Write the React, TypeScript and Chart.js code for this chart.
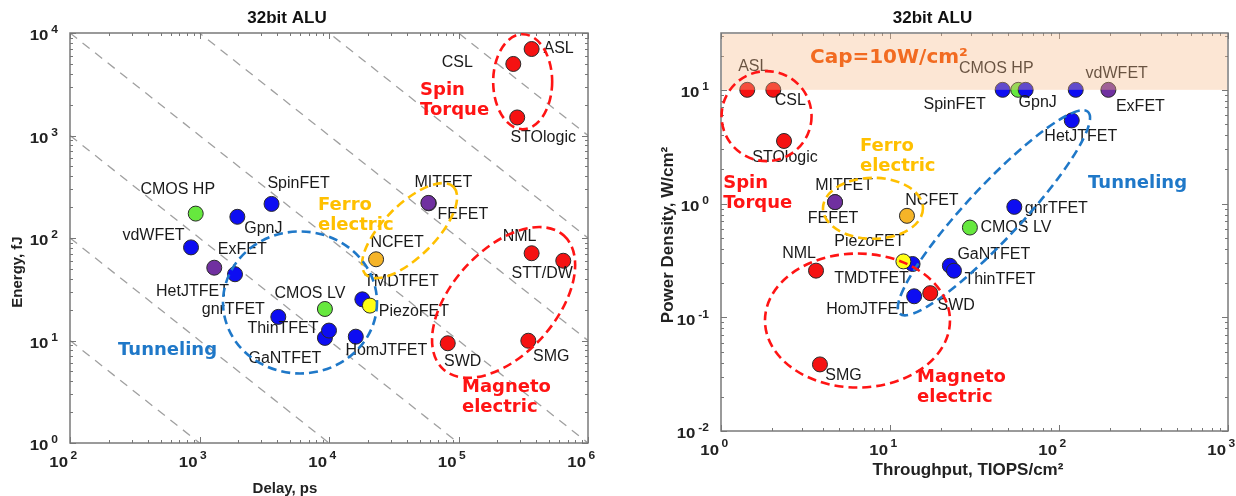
import React, { useEffect, useRef } from "react";
import { Chart, registerables } from "chart.js";

Chart.register(...registerables);

// ---------------- data ----------------
const devices = ["CMOS HP", "CMOS LV", "HomJTFET", "HetJTFET", "gnrTFET", "GaNTFET", "ThinTFET", "TMDTFET", "PiezoFET", "vdWFET", "ExFET", "SpinFET", "GpnJ", "NCFET", "FEFET", "MITFET", "ASL", "CSL", "STOlogic", "NML", "STT/DW", "SWD", "SMG"];
const families = ["cmos", "cmos", "tfet", "tfet", "tfet", "tfet", "tfet", "tfet", "piezo", "tfet", "exfet", "tfet", "tfet", "ncfet", "fefet", "fefet", "spin", "spin", "spin", "magneto", "magneto", "magneto", "magneto"];

const delayPs = [935, 9300, 16100, 1880, 4060, 9300, 10000, 18100, 20700, 860, 1300, 3600, 1960, 23100, 59000, 58500, 367000, 265000, 284000, 367000, 644000, 82600, 346000];
const energyFJ = [173, 20.3, 10.9, 44.3, 17.0, 10.6, 12.5, 25.2, 21.9, 81, 51.3, 215, 161, 62, 218, 220, 6980, 4990, 1500, 71, 60, 9.4, 9.95];

const throughputTIOPS = [57.4, 29.7, 13.9, 119, 54.4, 22.6, 23.9, 13.6, 12.0, 125.6, 196, 46.4, 63.5, 12.6, 4.73, 4.73, 1.43, 2.04, 2.36, 3.65, null, 17.3, 3.85];
const powerDensity = [10, 0.615, 0.153, 5.38, 0.935, 0.284, 0.257, 0.294, 0.31, 10, 10, 10, 10, 0.78, 1.03, 1.03, 10, 10, 3.55, 0.257, null, 0.163, 0.0385];

// constant energy*delay reference lines (fJ*ps)
const energyDelayLines = [1e3, 1e4, 1e5, 1e6, 1e7, 1e8, 1e9];
const powerCap = 10; // W/cm2

const leftXTickExps = [2, 3, 4, 5, 6];
const leftYTickExps = [0, 1, 2, 3, 4];
const rightXTickExps = [0, 1, 2, 3];
const rightYTickExps = [-2, -1, 0, 1];

// ---------------- styles / layout ----------------
const familyColors: Record<string, string> = {
  cmos: "#66e83e",
  tfet: "#0d0df2",
  piezo: "#ffff14",
  exfet: "#7030a0",
  fefet: "#7030a0",
  ncfet: "#f5b428",
  spin: "#f51212",
  magneto: "#f51212",
};
const RED = "#ff1414";
const GOLD = "#ffc000";
const BLUE = "#1f78c8";

// label offsets in pixels from each point (center of text)
const leftLabelOffsets: number[][] = [
  [-18, -24], [-15, -15.5], [30.5, 14], [-42.5, 17], [-45, -7], [-40, 21], [-46, -2], [39, -18], [44, 6],
  [-37.5, -12], [28, -18], [27, -20.5], [26, 12], [21, -17], [34, 11], [15, -20],
  [27, 0], [-56, -1], [26, 20], [-12, -17], [-21, 13], [15, 18], [23, 16],
];
const rightLabelOffsets: number[][] = [
  [-22, -21], [46, 0], [-47, 13], [9, 16], [42, 1.5], [44, -11.5], [46, 8.5], [-41, 15], [-34, -20],
  [41, -16], [32, 17], [-48, 15], [12, 13], [25, -15], [-2, 16.5], [9, -16],
  [6, -23], [17, 11], [1, 16.5], [-17, -17.5], [0, 0], [26, 12], [23.5, 11],
];

type Ell = { cx: number; cy: number; a: number; b: number; rot: number; color: string };
const leftEllipses: Ell[] = [
  { cx: 3.13e5, cy: 3350, a: 29.5, b: 47.5, rot: 0, color: RED },
  { cx: 4.19e4, cy: 118, a: 62, b: 26, rot: -45, color: GOLD },
  { cx: 5970, cy: 23.5, a: 77, b: 71, rot: 0, color: BLUE },
  { cx: 2.23e5, cy: 23.5, a: 90, b: 52, rot: -48, color: RED },
];
const rightEllipses: Ell[] = [
  { cx: 1.86, cy: 5.87, a: 45, b: 45, rot: 0, color: RED },
  { cx: 7.93, cy: 0.908, a: 50, b: 30.5, rot: 0, color: GOLD },
  { cx: 41.2, cy: 0.829, a: 138, b: 27, rot: -47, color: BLUE },
  { cx: 6.42, cy: 0.0936, a: 92.5, b: 67, rot: 0, color: RED },
];

type Group = { lines: string[]; x: number; y: number; color: string };
const leftGroups: Group[] = [
  { lines: ["Spin", "Torque"], x: 5.05e4, y: 2218, color: RED },
  { lines: ["Ferro", "electric"], x: 8220, y: 167.6, color: GOLD },
  { lines: ["Tunneling"], x: 235, y: 7.98, color: BLUE },
  { lines: ["Magneto", "electric"], x: 1.064e5, y: 2.78, color: RED },
];
const rightGroups: Group[] = [
  { lines: ["Spin", "Torque"], x: 1.03, y: 1.229, color: RED },
  { lines: ["Ferro", "electric"], x: 6.64, y: 2.58, color: GOLD },
  { lines: ["Tunneling"], x: 148.5, y: 1.5, color: BLUE },
  { lines: ["Magneto", "electric"], x: 14.45, y: 0.0244, color: RED },
];

const SANS = "'Liberation Sans', Arial, Helvetica, sans-serif";
const WIDE = "'DejaVu Sans', Verdana, sans-serif";

function txt(ctx: CanvasRenderingContext2D, s: string, x: number, y: number, font: string, color: string, align: CanvasTextAlign = "center", sx = 1) {
  ctx.save();
  ctx.font = font;
  ctx.fillStyle = color;
  ctx.textAlign = align;
  ctx.textBaseline = "middle";
  ctx.translate(x, y);
  ctx.scale(sx, 1);
  ctx.fillText(s, 0, 0);
  ctx.restore();
}

function textW(ctx: CanvasRenderingContext2D, s: string, font: string, sx = 1) {
  ctx.save();
  ctx.font = font;
  const w = ctx.measureText(s).width * sx;
  ctx.restore();
  return w;
}

type Spec = {
  xs: (number | null)[];
  ys: (number | null)[];
  offsets: number[][];
  ellipses: Ell[];
  groups: Group[];
  xMin: number; xMax: number; yMin: number; yMax: number;
  xTickExps: number[]; yTickExps: number[];
  refLines?: number[];
  cap?: number;
  capText?: { text: string; x: number; y: number };
  xTitle: string; yTitle: string;
  titleFont: string;
  xTitleDx: number; xTitleDy: number;
  yTitleDx: number; yTitleDy: number;
  padding: { left: number; right: number; top: number; bottom: number };
};

const TICK_FONT = `bold 14px ${SANS}`;
const EXP_FONT = `bold 10px ${SANS}`;
const TSX = 1.2;

function makePlugin(spec: Spec) {
  return {
    id: "decor",
    beforeDatasetsDraw(chart: any) {
      const { ctx, chartArea: ca, scales } = chart;
      const xs = scales.x, ys = scales.y;
      // reference lines
      if (spec.refLines) {
        ctx.save();
        ctx.beginPath();
        ctx.rect(ca.left, ca.top, ca.right - ca.left, ca.bottom - ca.top);
        ctx.clip();
        ctx.strokeStyle = "#a0a0a0";
        ctx.lineWidth = 1.3;
        ctx.setLineDash([9, 7]);
        for (const c of spec.refLines) {
          ctx.beginPath();
          ctx.moveTo(xs.getPixelForValue(spec.xMin), ys.getPixelForValue(c / spec.xMin));
          ctx.lineTo(xs.getPixelForValue(spec.xMax), ys.getPixelForValue(c / spec.xMax));
          ctx.stroke();
        }
        ctx.restore();
      }
      // frame
      ctx.save();
      ctx.strokeStyle = "#7a7a7a";
      ctx.lineWidth = 1.5;
      ctx.strokeRect(ca.left, ca.top, ca.right - ca.left, ca.bottom - ca.top);
      // ticks
      ctx.lineWidth = 1;
      ctx.strokeStyle = "#777";
      const drawTicks = (min: number, max: number, scale: any, horiz: boolean) => {
        const e0 = Math.floor(Math.log10(min)), e1 = Math.ceil(Math.log10(max));
        for (let e = e0; e <= e1; e++) {
          for (let m = 1; m <= 9; m++) {
            const v = m * Math.pow(10, e);
            if (v < min * 0.999 || v > max * 1.001) continue;
            const p = Math.round(scale.getPixelForValue(v)) + 0.5;
            const L = m === 1 ? 6 : 3;
            ctx.beginPath();
            if (horiz) {
              ctx.moveTo(p, ca.bottom); ctx.lineTo(p, ca.bottom - L);
              ctx.moveTo(p, ca.top); ctx.lineTo(p, ca.top + L);
            } else {
              ctx.moveTo(ca.left, p); ctx.lineTo(ca.left + L, p);
              ctx.moveTo(ca.right, p); ctx.lineTo(ca.right - L, p);
            }
            ctx.stroke();
          }
        }
      };
      drawTicks(spec.xMin, spec.xMax, xs, true);
      drawTicks(spec.yMin, spec.yMax, ys, false);
      ctx.restore();
    },
    afterDatasetsDraw(chart: any) {
      const { ctx, chartArea: ca, scales } = chart;
      const xs = scales.x, ys = scales.y;
      // point labels
      devices.forEach((name, i) => {
        const xv = spec.xs[i], yv = spec.ys[i];
        if (xv == null || yv == null) return;
        const px = xs.getPixelForValue(xv), py = ys.getPixelForValue(yv);
        const [dx, dy] = spec.offsets[i];
        txt(ctx, name, px + dx, py + dy, `16px ${SANS}`, "#1a1a1a", "center");
      });
      // cap band
      if (spec.cap != null) {
        const yc = ys.getPixelForValue(spec.cap);
        ctx.save();
        ctx.fillStyle = "rgba(247,186,135,0.36)";
        ctx.fillRect(ca.left + 1, ca.top + 1, ca.right - ca.left - 2, yc - ca.top - 1);
        ctx.restore();
      }
      // ellipses
      for (const el of spec.ellipses) {
        const px = xs.getPixelForValue(el.cx), py = ys.getPixelForValue(el.cy);
        ctx.save();
        ctx.strokeStyle = el.color;
        ctx.lineWidth = 2.6;
        ctx.setLineDash([9, 5]);
        ctx.beginPath();
        ctx.ellipse(px, py, el.a, el.b, (el.rot * Math.PI) / 180, 0, Math.PI * 2);
        ctx.stroke();
        ctx.restore();
      }
      // group texts
      for (const g of spec.groups) {
        const px = xs.getPixelForValue(g.x), py = ys.getPixelForValue(g.y);
        const lh = 20;
        const y0 = py - ((g.lines.length - 1) * lh) / 2;
        g.lines.forEach((l, k) => txt(ctx, l, px, y0 + k * lh, `bold 18px ${WIDE}`, g.color, "left"));
      }
      if (spec.capText) {
        const px = xs.getPixelForValue(spec.capText.x), py = ys.getPixelForValue(spec.capText.y);
        txt(ctx, spec.capText.text, px, py, `bold 20px ${WIDE}`, "#f26b21", "left");
      }
      // tick labels
      for (const e of spec.xTickExps) {
        const p = xs.getPixelForValue(Math.pow(10, e));
        txt(ctx, "10", p - 2, ca.bottom + 20, TICK_FONT, "#222", "right", TSX);
        txt(ctx, String(e), p + 0.5, ca.bottom + 13, EXP_FONT, "#222", "left", TSX);
      }
      for (const e of spec.yTickExps) {
        const p = ys.getPixelForValue(Math.pow(10, e));
        const wb = textW(ctx, "10", TICK_FONT, TSX);
        const we = textW(ctx, String(e), EXP_FONT, TSX);
        const right = ca.left - 12;
        const start = right - (wb + 3 + we);
        txt(ctx, "10", start, p + 3.5, TICK_FONT, "#222", "left", TSX);
        txt(ctx, String(e), start + wb + 3, p - 2.5, EXP_FONT, "#222", "left", TSX);
      }
      // titles
      const cx = (ca.left + ca.right) / 2, cy = (ca.top + ca.bottom) / 2;
      txt(ctx, "32bit ALU", cx - 42, 18.5, `bold 17px ${SANS}`, "#111", "center");
      txt(ctx, spec.xTitle, cx + spec.xTitleDx, ca.bottom + spec.xTitleDy, spec.titleFont, "#222", "center");
      ctx.save();
      ctx.translate(ca.left + spec.yTitleDx, cy + spec.yTitleDy);
      ctx.rotate(-Math.PI / 2);
      txt(ctx, spec.yTitle, 0, 0, spec.titleFont, "#222", "center");
      ctx.restore();
    },
  };
}

function makeConfig(spec: Spec): any {
  const idx = devices.map((_, i) => i).filter((i) => spec.xs[i] != null && spec.ys[i] != null);
  return {
    type: "scatter",
    data: {
      datasets: [
        {
          data: idx.map((i) => ({ x: spec.xs[i], y: spec.ys[i] })),
          pointRadius: 7.5,
          pointHoverRadius: 7.5,
          pointBackgroundColor: idx.map((i) => familyColors[families[i]]),
          pointBorderColor: "#2a2a2a",
          pointBorderWidth: 1,
          showLine: false,
          clip: false,
        },
      ],
    },
    options: {
      responsive: false,
      maintainAspectRatio: false,
      animation: false,
      devicePixelRatio: 1,
      events: [],
      layout: { padding: spec.padding, autoPadding: false },
      plugins: { legend: { display: false }, tooltip: { enabled: false }, title: { display: false } },
      scales: {
        x: { type: "logarithmic", min: spec.xMin, max: spec.xMax, display: false },
        y: { type: "logarithmic", min: spec.yMin, max: spec.yMax, display: false },
      },
    },
    plugins: [makePlugin(spec)],
  };
}

const leftSpec: Spec = {
  xs: delayPs,
  ys: energyFJ,
  offsets: leftLabelOffsets,
  ellipses: leftEllipses,
  groups: leftGroups,
  xMin: 1e2, xMax: 1e6, yMin: 1, yMax: 1e4,
  xTickExps: leftXTickExps,
  yTickExps: leftYTickExps,
  refLines: energyDelayLines,
  xTitle: "Delay, ps",
  yTitle: "Energy, fJ",
  titleFont: `bold 15px ${SANS}`,
  xTitleDx: -44, xTitleDy: 46,
  yTitleDx: -52, yTitleDy: 34,
  padding: { left: 70, right: 52, top: 33, bottom: 53 },
};

const rightSpec: Spec = {
  xs: throughputTIOPS,
  ys: powerDensity,
  offsets: rightLabelOffsets,
  ellipses: rightEllipses,
  groups: rightGroups,
  xMin: 1, xMax: 1e3, yMin: 0.01, yMax: 31.6,
  xTickExps: rightXTickExps,
  yTickExps: rightYTickExps,
  cap: powerCap,
  capText: { text: "Cap=10W/cm²", x: 3.36, y: 18.97 },
  xTitle: "Throughput, TIOPS/cm²",
  yTitle: "Power Density, W/cm²",
  titleFont: `bold 17px ${SANS}`,
  xTitleDx: -6.5, xTitleDy: 39,
  yTitleDx: -53, yTitleDy: 3,
  padding: { left: 81, right: 8, top: 33, bottom: 65 },
};

function ChartCanvas({ spec, left, width, height }: { spec: Spec; left: number; width: number; height: number }) {
  const ref = useRef<HTMLCanvasElement>(null);
  useEffect(() => {
    const chart = new Chart(ref.current as HTMLCanvasElement, makeConfig(spec));
    return () => chart.destroy();
  }, [spec]);
  return (
    <canvas
      ref={ref}
      width={width}
      height={height}
      style={{ position: "absolute", left, top: 0, width, height, display: "block" }}
    />
  );
}

export default function App() {
  return (
    <div style={{ position: "fixed", left: 0, top: 0, width: 1236, height: 496, background: "#fff", overflow: "hidden" }}>
      <ChartCanvas spec={leftSpec} left={0} width={640} height={496} />
      <ChartCanvas spec={rightSpec} left={640} width={596} height={496} />
    </div>
  );
}
